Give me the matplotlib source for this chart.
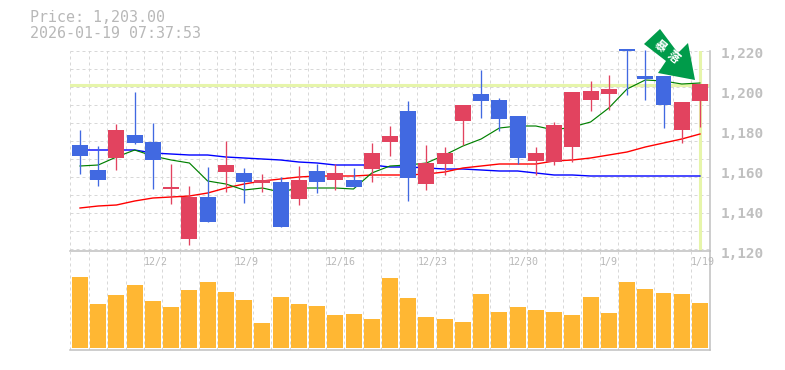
import numpy as np
from matplotlib import pyplot as plt
from matplotlib.patches import Polygon

W, H = 785, 370

# candles, yen
opens = [1172.75, 1160.25, 1166.25, 1177.75, 1174.25, 1150.75, 1125.75, 1146.75, 1159.25, 1158.75,
         1153.75, 1154.25, 1145.75, 1159.75, 1155.25, 1155.25, 1160.75, 1174.25, 1189.75, 1153.25,
         1163.25, 1184.75, 1198.25, 1195.25, 1187.25, 1164.75, 1164.25, 1171.75, 1195.25, 1198.25,
         1221.0, 1207.25, 1207.25, 1180.25, 1194.75]
closes = [1167.4, 1155.25, 1180.25, 1173.75, 1165.25, 1151.75, 1146.75, 1134.25, 1162.75, 1154.25,
          1155.25, 1131.75, 1155.25, 1154.25, 1158.75, 1151.75, 1168.75, 1177.25, 1156.25, 1163.75,
          1168.75, 1192.75, 1194.75, 1185.75, 1166.25, 1168.75, 1182.75, 1199.25, 1199.75, 1200.75,
          1220.0, 1205.75, 1192.75, 1194.25, 1203.25]
highs = [1180.25, 1172.25, 1183.25, 1199.25, 1183.75, 1163.25, 1152.25, 1161.75, 1174.75, 1161.25,
         1158.25, 1156.75, 1162.25, 1163.25, 1163.25, 1161.25, 1173.75, 1182.25, 1194.75, 1172.75,
         1171.75, 1192.75, 1210.25, 1196.25, 1187.25, 1171.75, 1184.25, 1199.25, 1204.75, 1207.75,
         1221.0, 1220.25, 1207.25, 1194.25, 1203.25]
lows = [1158.25, 1152.25, 1160.25, 1173.25, 1150.75, 1143.25, 1122.75, 1134.25, 1149.25, 1143.75,
        1149.25, 1131.75, 1142.75, 1148.75, 1150.25, 1151.75, 1154.25, 1167.25, 1144.75, 1150.25,
        1157.75, 1172.75, 1186.25, 1179.75, 1163.25, 1157.75, 1162.75, 1164.25, 1189.75, 1190.25,
        1197.75, 1195.25, 1181.25, 1173.75, 1181.75]
volumes = [71, 44, 53, 63, 47, 41, 58, 66, 56, 48, 25, 51, 44, 42, 33, 34, 29, 70,
           50, 31, 29, 26, 54, 36, 41, 38, 36, 33, 51, 35, 66, 59, 55, 54, 45]

# moving averages
ma_short = [1162.25, 1162.75, 1166.75, 1170.25, 1167.25, 1165.25, 1163.75, 1154.75, 1153.25, 1150.25,
            1151.25, 1149.25, 1151.25, 1151.25, 1151.25, 1150.75, 1158.75, 1162.25, 1162.75, 1163.75,
            1167.75, 1172.25, 1175.75, 1181.25, 1182.25, 1182.25, 1180.25, 1181.75, 1184.25, 1191.25,
            1200.75, 1205.25, 1204.75, 1203.25, 1203.75]
ma_mid = [1141.25, 1142.25, 1142.75, 1144.75, 1146.25, 1146.75, 1147.25, 1148.75, 1151.25, 1153.25,
          1154.75, 1155.75, 1156.75, 1157.25, 1157.25, 1157.25, 1157.75, 1157.75, 1157.75, 1158.25,
          1159.25, 1161.25, 1162.25, 1163.25, 1163.25, 1163.25, 1164.75, 1165.25, 1166.25, 1167.75,
          1169.25, 1171.75, 1173.75, 1175.75, 1178.25]
ma_long = [1170.25, 1170.25, 1170.25, 1170.25, 1168.75, 1168.25, 1167.75, 1167.75, 1166.75, 1166.25,
           1165.75, 1165.25, 1164.25, 1163.75, 1162.75, 1162.75, 1162.75, 1161.75, 1161.75, 1161.25,
           1160.75, 1160.75, 1160.25, 1159.75, 1159.75, 1158.75, 1157.75, 1157.75, 1157.25, 1157.25,
           1157.25, 1157.25, 1157.25, 1157.25, 1157.25]

date_labels = ['12/2', '12/9', '12/16', '12/23', '12/30', '1/9', '1/19']
date_index = [3, 8, 13, 18, 23, 28, 33]
price_ticks = [1220, 1200, 1180, 1160, 1140, 1120]
last_price = 1203

UP = '#e2435f'
DOWN = '#4169e1'
VOL = '#ffb733'
GRID = '#d8d8d8'
AXIS = '#c0c0c0'
TEXT = '#b8b8b8'
NOW = '#e6f5aa'
FONT = 'DejaVu Sans Mono'
XMIN, XMAX = -0.548, 34.55


def px_axes(fig, left, top, right, bottom):
    return fig.add_axes([left / W, 1 - bottom / H, (right - left) / W, (bottom - top) / H])


def style(ax):
    ax.set_xlim(XMIN, XMAX)
    ax.set_xticks(np.r_[XMIN, np.arange(0.5, 34)])
    ax.tick_params(length=0, labelbottom=False, labelleft=False)
    ax.grid(True, color=GRID, linestyle=(0, (3, 3)), linewidth=0.72)
    ax.set_axisbelow(True)
    ax.patch.set_alpha(0)
    for name, spine in ax.spines.items():
        spine.set_visible(name in ('bottom', 'right'))
        spine.set_color(AXIS)
        spine.set_linewidth(1.1)


fig = plt.figure(figsize=(W / 100, H / 100), dpi=100)
x = np.arange(len(opens))

# price panel
ax = px_axes(fig, 70, 50.5, 710, 250.5)
style(ax)
ax.set_ylim(1120, 1220)
ax.set_yticks(np.arange(1220, 1120, -9))
ax.axhline(last_price, color=NOW, linewidth=2.2, zorder=1)
ax.axvline(x[-1], color=NOW, linewidth=2.2, zorder=1)

ax.plot(x, ma_long, color='#0000ff', linewidth=1.0, zorder=2)
ax.plot(x, ma_mid, color='#ff0000', linewidth=1.0, zorder=2)
ax.plot(x, ma_short, color='#008000', linewidth=0.85, zorder=2)

for i in range(len(x)):
    color = UP if closes[i] >= opens[i] else DOWN
    ax.plot([x[i], x[i]], [lows[i], highs[i]], color=color, linewidth=0.95,
            solid_capstyle='butt', zorder=3, clip_on=False)
    bottom = min(opens[i], closes[i])
    ax.bar(x[i], abs(closes[i] - opens[i]), bottom=bottom, width=0.877, color=color,
           linewidth=0, zorder=4, clip_on=False)

# volume panel
ax2 = px_axes(fig, 70, 250.5, 710, 350)
style(ax2)
ax2.set_ylim(-2, 97.5)
ax2.set_yticks([])
ax2.bar(x, volumes, width=0.877, color=VOL, linewidth=0, zorder=3)

for label, idx in zip(date_labels, date_index):
    ax2.text(idx + 0.5, 86, label, color=TEXT, family=FONT, fontsize=7.2,
             ha='left', va='center', clip_on=False, zorder=5)

for tick in price_ticks:
    y_px = 50.5 + (1220 - tick) * 2 + 3
    fig.text(721 / W, 1 - y_px / H, f'{tick:,}', color=AXIS, family=FONT,
             fontsize=10.4, ha='left', va='center', fontweight='bold')

fig.text(30 / W, 1 - 18 / H, 'Price: 1,203.00', color=TEXT, family=FONT, fontsize=10.8, va='center')
fig.text(30 / W, 1 - 33 / H, '2026-01-19 07:37:53', color=TEXT, family=FONT, fontsize=10.8, va='center')

# arrow badge
arrow_px = [(660, 29), (644, 44), (666, 61), (658, 73), (695, 80), (688, 43), (678, 53)]
fig.add_artist(Polygon([(a / W, 1 - b / H) for a, b in arrow_px], closed=True, facecolor='#009b4a',
                       edgecolor='none', transform=fig.transFigure, zorder=6))
for char, cx, cy in [('暴', 660, 46), ('落', 673, 57)]:
    fig.text(cx / W, 1 - cy / H, char, color='white', family=['Noto Sans CJK JP', 'DejaVu Sans'],
             fontsize=8.5, fontweight='bold', rotation=-40, ha='center', va='center', zorder=7)

fig.savefig('out.png', dpi=100)
